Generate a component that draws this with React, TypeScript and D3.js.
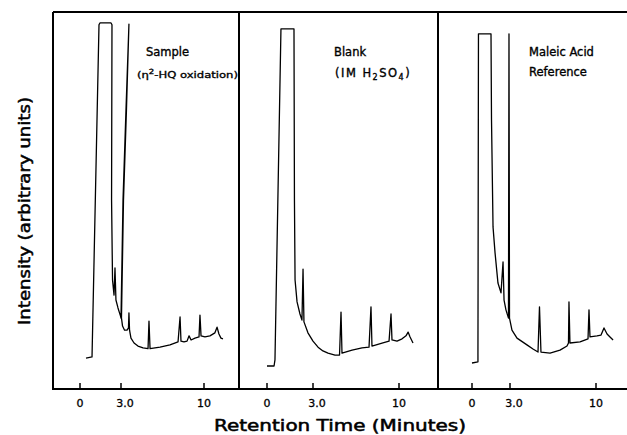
import React from "react";
import * as d3 from "d3";

// ---- data (retention time in minutes, intensity in arbitrary units) ----
const tickValues = [0, 3, 10];
const tickLabels = ["0", "3.0", "10"];

const panelNames = ["Sample", "Blank", "Maleic Acid", "Reference"];

const sampleTime = [0.44, 0.88, 1.39, 1.46, 2.27, 2.34, 2.31, 2.38, 2.49, 2.56, 2.63, 2.78, 2.96, 3.0, 3.17, 3.42, 3.67, 3.46, 3.21, 3.04, 3.13, 3.3, 3.51, 3.63, 3.67, 3.72, 3.84, 4.1, 4.43, 4.86, 5.28, 5.36, 5.45, 6.29, 7.13, 7.81, 7.98, 8.06, 8.31, 8.57, 8.74, 8.91, 9.24, 9.58, 9.66, 9.75, 10.08, 10.5, 10.92, 11.1, 11.26, 11.43, 11.6];
const sampleIntensity = [8.2, 8.5, 96.6, 97.1, 97.1, 96.6, 50.1, 28.9, 24.9, 32.1, 23.6, 21.5, 19.4, 18.8, 50.1, 74.0, 96.8, 74.0, 50.1, 18.8, 16.7, 15.6, 15.6, 16.2, 20.2, 15.6, 13.5, 12.2, 11.4, 10.9, 10.7, 18.0, 10.7, 11.1, 11.7, 12.5, 19.1, 12.7, 12.5, 12.7, 14.1, 13.0, 13.5, 13.8, 19.6, 14.1, 13.8, 14.1, 14.9, 16.4, 14.6, 13.5, 13.3];

const blankTime = [0, 0.46, 0.52, 0.91, 1.76, 1.79, 1.83, 1.96, 2.15, 2.28, 2.35, 2.41, 2.67, 3.0, 3.41, 3.81, 4.22, 4.79, 5.16, 5.28, 5.36, 6.18, 6.99, 7.56, 7.72, 7.8, 8.62, 9.19, 9.35, 9.43, 9.84, 10.25, 10.57, 10.74, 10.9, 11.14];
const blankIntensity = [6.1, 6.1, 7.7, 95.5, 95.5, 50.1, 28.9, 23.1, 19.9, 18.3, 31.8, 17.8, 14.9, 12.7, 11.1, 10.1, 9.5, 9.0, 9.0, 20.4, 9.5, 10.3, 10.9, 11.1, 21.8, 11.4, 12.2, 12.7, 19.9, 13.0, 12.7, 13.3, 14.1, 15.1, 13.8, 12.2];

const maleicTime = [0, 0.47, 0.47, 0.51, 1.5, 1.54, 1.66, 1.82, 2.05, 2.29, 2.45, 2.53, 2.68, 2.88, 2.92, 2.96, 3.16, 3.57, 4.38, 4.87, 5.28, 5.4, 5.52, 6.26, 7.07, 7.64, 7.76, 7.8, 7.88, 8.7, 9.35, 9.43, 9.51, 10.08, 10.41, 10.65, 10.9, 11.14, 11.39];
const maleicIntensity = [6.9, 7.2, 9.0, 94.2, 94.2, 71.4, 43.0, 36.1, 28.1, 25.5, 33.7, 23.6, 21.0, 18.8, 94.2, 18.8, 15.6, 13.5, 11.7, 10.6, 9.8, 21.8, 9.8, 9.5, 10.3, 11.4, 12.2, 23.1, 12.2, 12.5, 13.3, 21.0, 13.8, 14.1, 14.3, 16.2, 14.6, 13.8, 13.0];

// ---- layout ----
const W = 627;
const H = 435;
const top = 12;
const bottom = 389;
const frameLeft = 53;
const dividers = [239, 438];
const panelTickPx = [
  [80, 121, 204],
  [267, 313, 399],
  [472, 510, 596],
];
const series = [
  { t: sampleTime, v: sampleIntensity },
  { t: blankTime, v: blankIntensity },
  { t: maleicTime, v: maleicIntensity },
];

const yScale = d3.scaleLinear().domain([0, 100]).range([bottom, top]);
const font = "'DejaVu Sans', sans-serif";

export default function App() {
  const panels = series.map((s, i) => {
    const x = d3.scaleLinear().domain(tickValues).range(panelTickPx[i]);
    const pts: [number, number][] = s.t.map((t, k) => [x(t), yScale(s.v[k])]);
    const path = d3.line()(pts) || "";
    return { x, path };
  });

  return (
    <svg width={W} height={H} style={{ position: "absolute", left: 0, top: 0, background: "#fff" }}>
      {/* frame */}
      <g stroke="#000" strokeWidth={2} fill="none">
        <line x1={frameLeft} y1={top} x2={W} y2={top} />
        <line x1={frameLeft} y1={top} x2={frameLeft} y2={bottom} />
        <line x1={frameLeft - 1} y1={bottom} x2={W} y2={bottom} />
        {dividers.map((d) => (
          <line key={d} x1={d} y1={top} x2={d} y2={bottom} />
        ))}
      </g>

      {/* traces */}
      {panels.map((p, i) => (
        <path key={i} d={p.path} fill="none" stroke="#000" strokeWidth={1.3} strokeLinejoin="round" />
      ))}

      {/* ticks */}
      {panels.map((p, i) => (
        <g key={"t" + i}>
          {tickValues.map((tv, k) => (
            <g key={k}>
              <line x1={p.x(tv)} x2={p.x(tv)} y1={bottom} y2={bottom - 6} stroke="#000" strokeWidth={1.5} />
              <text x={p.x(tv) + (k === 1 ? 4 : 0)} y={407} textAnchor="middle" fontFamily={font} fontSize={11} stroke="#000" strokeWidth={0.3}>
                {tickLabels[k]}
              </text>
            </g>
          ))}
        </g>
      ))}

      {/* panel labels */}
      <g fontFamily={font} fill="#000" stroke="#000" strokeWidth={0.35}>
        <text x={146} y={56} fontSize={11.5}>{panelNames[0]}</text>
        <text x={137} y={78} fontSize={9.5} textLength={101} lengthAdjust="spacingAndGlyphs">
          (η<tspan dy={-4} fontSize={7}>2</tspan>
          <tspan dy={4}>-HQ oxidation)</tspan>
        </text>
        <text x={334} y={56} fontSize={11.5}>{panelNames[1]}</text>
        <text x={335} y={77} fontSize={11.5} letterSpacing={1.5}>
          (IM H<tspan dy={3} fontSize={8}>2</tspan>
          <tspan dy={-3}>SO</tspan>
          <tspan dy={3} fontSize={8}>4</tspan>
          <tspan dy={-3}>)</tspan>
        </text>
        <text x={529} y={56} fontSize={11.5}>{panelNames[2]}</text>
        <text x={529} y={76} fontSize={11.5}>{panelNames[3]}</text>
      </g>

      {/* axis titles */}
      <text x={340} y={431} textAnchor="middle" fontFamily={font} fontSize={15} stroke="#000" strokeWidth={0.5} textLength={252} lengthAdjust="spacingAndGlyphs">
        Retention Time (Minutes)
      </text>
      <text
        transform="translate(30,211) rotate(-90)"
        textAnchor="middle"
        fontFamily={font}
        fontSize={15}
        stroke="#000"
        strokeWidth={0.5}
        textLength={228}
        lengthAdjust="spacingAndGlyphs"
      >
        Intensity (arbitrary units)
      </text>
    </svg>
  );
}
